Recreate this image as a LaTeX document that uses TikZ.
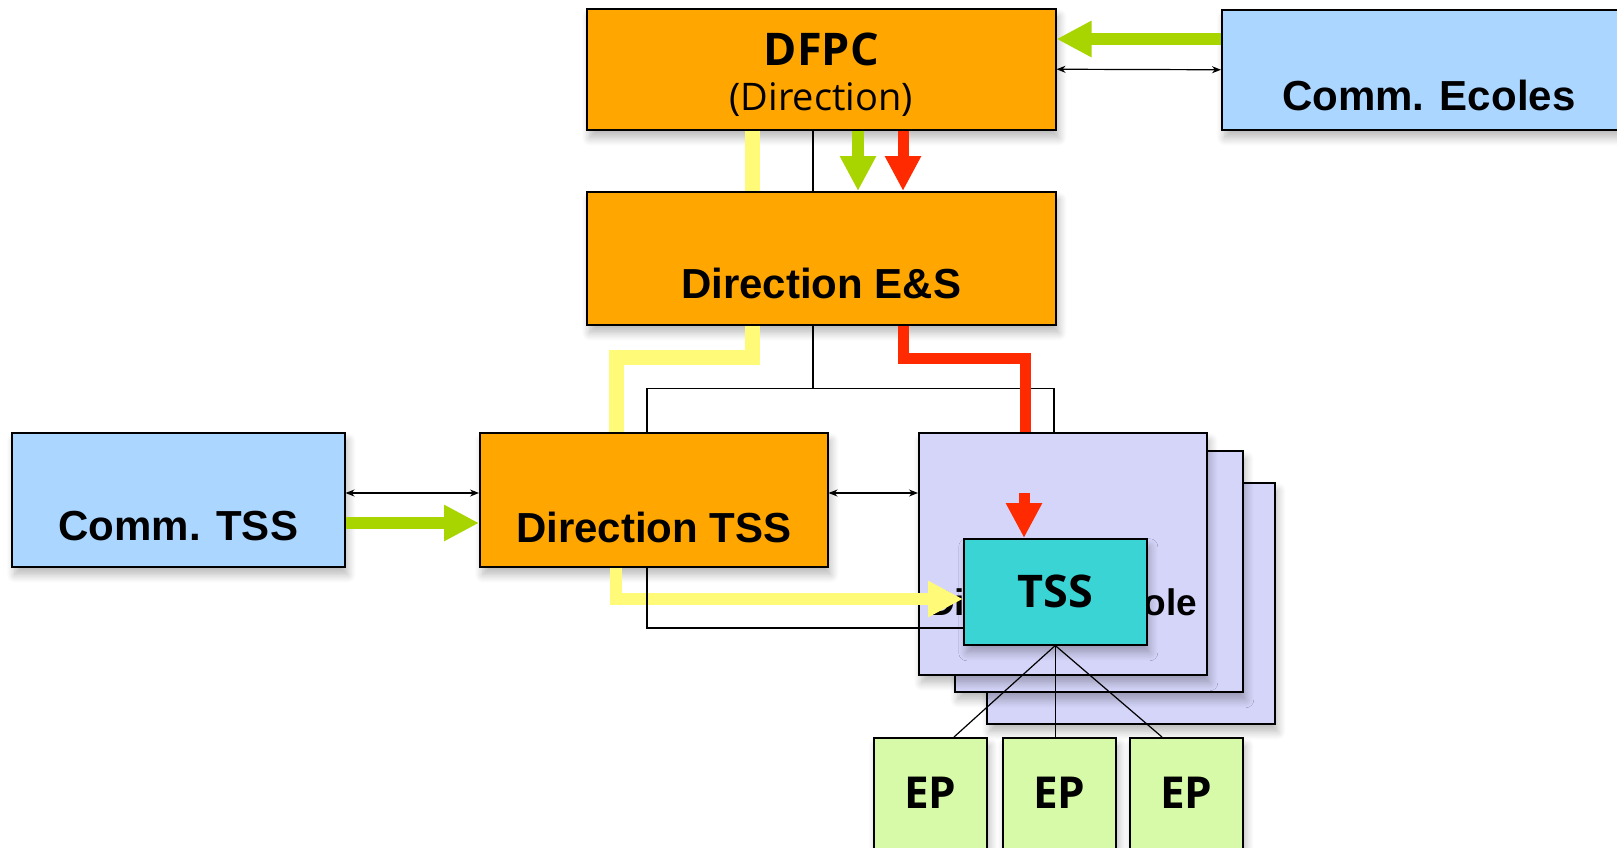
\documentclass[tikz,border=0pt]{standalone}
\usepackage{fontspec}
\setmainfont{Liberation Sans}
\newfontfamily\lucida{Open Sans}
\usetikzlibrary{arrows.meta,shadows.blur}

\definecolor{boxorange}{RGB}{255,166,0}
\definecolor{commblue}{RGB}{170,214,255}
\definecolor{ecolav}{RGB}{213,213,250}
\definecolor{tssteal}{RGB}{58,212,212}
\definecolor{epgreen}{RGB}{214,250,168}
\definecolor{flowyellow}{RGB}{255,250,120}
\definecolor{flowgreen}{RGB}{168,212,0}
\definecolor{flowred}{RGB}{255,42,0}

\tikzset{
  orgbox/.style={draw, line width=1.5pt, inner sep=0pt, anchor=north west,
    blur shadow={shadow xshift=3pt, shadow yshift=-8pt, shadow blur radius=8pt, shadow blur steps=10, shadow opacity=28}},
  arialtxt/.style={font=\bfseries\fontsize{42}{46}\selectfont},
  lucidatxt/.style={font=\lucida\bfseries\fontsize{45}{48}\selectfont},
  link/.style={line width=1.2pt},
  bothway/.style={line width=1.2pt, {Stealth[length=9pt,width=7pt]}-{Stealth[length=9pt,width=7pt]}},
  bigtip/.style={-{Triangle[length=35pt,width=34pt]}},
  gflow/.style={flowgreen, line width=11.5pt, bigtip},
  yflow/.style={flowyellow, line width=15pt},
  rflow/.style={flowred, line width=11pt}
}

\begin{document}
\begin{tikzpicture}[x=1pt,y=-1pt]
\useasboundingbox (0,0) rectangle (1617,847);
\clip (0,0) rectangle (1617,847);

% stack of Direction Ecole
\node[orgbox,fill=ecolav,minimum width=288pt,minimum height=241pt] (eco3) at (986,482) {};
\node[orgbox,fill=ecolav,minimum width=288pt,minimum height=241pt] (eco2) at (954,450) {};
\node[orgbox,fill=ecolav,font=\bfseries\fontsize{37}{40}\selectfont,minimum width=288pt,text height=183pt,text depth=59pt] (eco) at (918,432) {Direction Ecole};

\node[orgbox,fill=boxorange,minimum width=469pt,minimum height=121pt,align=center,font=\lucida\fontsize{38}{45}\selectfont] (dfpc) at (586,8)
  {\rule{0pt}{44pt}{\bfseries\fontsize{45}{45}\selectfont DFPC}\\(Direction)};
\node[orgbox,fill=commblue,arialtxt,minimum width=414pt,text height=101pt,text depth=19pt] (cecoles) at (1221,9) {Comm. Ecoles};
\node[orgbox,fill=boxorange,arialtxt,minimum width=469pt,text height=107pt,text depth=26pt] (ens) at (586,191) {Direction E\&S};
\node[orgbox,fill=commblue,arialtxt,minimum width=333pt,text height=108pt,text depth=26pt] (ctss) at (11,432) {Comm. TSS};
\node[orgbox,fill=boxorange,arialtxt,minimum width=348pt,text height=110pt,text depth=24pt] (dtss) at (479,432) {Direction TSS};
\node[orgbox,fill=tssteal,lucidatxt,minimum width=183pt,text height=69pt,text depth=37pt] (tss) at (963,538) {TSS};
\foreach \i/\x in {1/873,2/1002,3/1129}
  \node[orgbox,fill=epgreen,font=\lucida\bfseries\fontsize{44}{46}\selectfont,minimum width=113pt,text height=71pt,text depth=69pt] (ep\i) at (\x,737) {EP};

% DFPC <-> Comm. Ecoles
\draw[gflow] ([yshift=-30pt]cecoles.north west) -- ([yshift=-31pt]dfpc.north east);
\draw[bothway] (dfpc.east) -- (cecoles.west);

% DFPC -> Direction E&S
\draw[yflow] ([xshift=166pt]dfpc.south west) -- ([xshift=166pt]ens.north west);
\draw[link] ([xshift=227pt]dfpc.south west) -- ([xshift=227pt]ens.north west);
\draw[gflow] ([xshift=272pt]dfpc.south west) -- ([xshift=272pt]ens.north west);
\draw[rflow,bigtip] ([xshift=317pt]dfpc.south west) -- ([xshift=317pt]ens.north west);

% Direction E&S -> Direction TSS, Direction Ecole
\draw[yflow] ([xshift=166pt]ens.south west) -- ++(0,32) -| ([xshift=137pt]dtss.north west);
\draw[link] ([xshift=227pt]ens.south west) -- ++(0,63) coordinate (bus);
\draw[link] ([xshift=168pt]dtss.north west) |- (bus) -| ([xshift=136pt]eco.north west);
\draw[rflow] ([xshift=317pt]ens.south west) -- ++(0,33) -| ([xshift=107pt]eco.north west);

% Comm. TSS <-> Direction TSS <-> Direction Ecole
\draw[bothway] ([yshift=-61pt]ctss.north east) -- ([yshift=-61pt]dtss.north west);
\draw[gflow] ([yshift=-91pt]ctss.north east) -- ([yshift=-91pt]dtss.north west);
\draw[bothway] ([yshift=-61pt]dtss.north east) -- ([yshift=-61pt]eco.north west);

% Direction TSS -> TSS
\draw[yflow,line width=12pt,bigtip] ([xshift=137pt]dtss.south west) |- ([yshift=-61pt]tss.north west);
\draw[link] ([xshift=168pt]dtss.south west) |- ([yshift=-90pt]tss.north west);
\coordinate (redin) at ([xshift=61pt,yshift=45pt]tss.north west);
\draw[rflow,bigtip] (redin) -- ([xshift=61pt]tss.north west);

% TSS -> EP
\draw[link] (tss.south) -- ([xshift=81pt]ep1.north west);
\draw[link] (tss.south) -- (tss.south |- ep2.north);
\draw[link] (tss.south) -- ([xshift=33pt]ep3.north west);
\end{tikzpicture}
\end{document}
